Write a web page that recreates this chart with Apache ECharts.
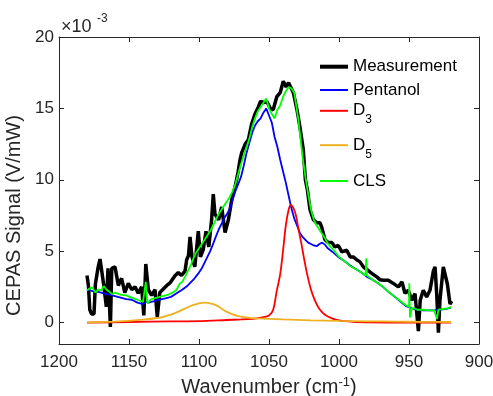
<!DOCTYPE html>
<html><head><meta charset="utf-8">
<script src="https://cdn.jsdelivr.net/npm/echarts@6/dist/echarts.min.js"></script>
<style>html,body{margin:0;padding:0;background:#fff}#c{width:493px;height:396px}</style>
</head><body><div id="c"></div>
<script>
// All signal values are in units of 1e-3 V/mW (axis shows ×10^-3)
const xTicks = [900, 950, 1000, 1050, 1100, 1150, 1200];
const yTicks = [0, 5, 10, 15, 20];

const measWn = [1180,1179,1178,1176.7,1175,1174,1172,1170.7,1169.5,1168,1166.2,1165,1164,1163.3,1162.3,1160,1157.6,1155.3,1153,1150.5,1148,1145.7,1143.4,1141,1139.4,1138,1136.2,1133.8,1131.4,1129.8,1128,1126,1123,1120.5,1117,1114.8,1112.5,1110,1108.8,1107.5,1106.4,1105,1103,1100.5,1099,1097,1095,1093,1091,1089.8,1088.6,1086,1083.8,1081.4,1079,1076.6,1074,1072,1070.7,1069.5,1067,1064.8,1062.4,1060,1057.6,1056,1054,1051.7,1049,1047,1044.5,1042,1039.8,1038.6,1037.8,1036,1035,1032.6,1030,1027.9,1025.5,1024,1022.6,1020.7,1018.3,1016,1013.6,1012.4,1010,1007.6,1005,1002.9,1000.5,998,994.5,992,989.8,987.4,985,982.6,980,976.6,973,970.7,968.3,964.8,961,957.6,955,952.9,950.5,948,945.7,943.3,942,939.8,937.4,935,932.6,931.4,930.2,929,927.9,925.5,924.3,922.6,920.7,919.5];
const measurement = [3.3,2.6,0.9,0.6,0.6,2.7,3.9,4.45,4.4,2.6,1.1,3.8,3.7,-0.3,3.8,3.9,2.6,3.1,2.1,2.75,2.3,2.5,2.05,2.5,0.5,4.1,2.3,1.9,2.3,0.4,2.1,2.3,2.6,2.8,3.3,3.5,3.3,3.6,4.4,4.7,6.0,4.6,3.9,6.4,4.6,5.1,6.4,5.3,7.2,9.0,7.6,7.2,8.1,6.3,7.2,8.6,9.6,10.6,11.4,11.9,12.5,12.8,13.9,14.6,15.1,15.5,15.4,15.5,15.0,14.9,15.8,16.1,16.9,17.0,16.5,16.8,16.9,16.1,14.9,13.7,12.1,10.0,9.3,7.9,7.2,7.0,7.0,6.7,5.8,5.6,5.6,5.3,5.4,4.95,5.07,4.6,4.6,4.4,4.25,3.9,3.7,3.45,3.2,3.0,2.97,2.97,2.73,2.5,2.85,2.05,2.26,1.56,2.03,-0.6,1.56,2.26,1.8,2.26,3.6,3.9,2.0,-0.7,1.56,3.9,3.9,2.7,1.3,1.5];

const compWn = [1180,1176,1172,1168,1164,1160,1156,1152,1148,1144,1142,1140,1138,1136,1132,1128,1124,1120,1116,1112,1108,1104,1100,1098,1096,1094,1092,1090,1088,1086,1084,1082,1080,1078,1076,1074,1072,1070,1068,1066,1064,1062,1060,1058,1056,1054,1052,1050,1048,1046,1044,1042,1040,1038,1036,1034,1032,1030,1028,1026,1024,1022,1020,1018,1016,1014,1012,1010,1008,1006,1004,1000,996,992,988,984,980,976,972,968,964,960,956,952,948,944,940,936,932,928,924,920];
const pentanol = [2.3,2.2,2.15,2.05,1.95,1.85,1.75,1.65,1.6,1.4,1.35,1.3,1.45,1.4,1.5,1.6,1.7,1.8,2.05,2.3,2.6,3.0,3.5,3.8,4.2,4.6,5.0,5.5,6.0,6.5,6.9,7.3,7.6,8.0,8.6,9.2,9.7,10.2,11.0,11.9,12.6,13.3,13.8,14.1,14.3,14.7,15.0,14.5,14.0,13.0,12.3,11.4,10.6,9.8,8.9,8.0,7.3,6.8,6.3,6.0,5.8,5.6,5.5,5.4,5.35,5.5,5.6,5.45,5.2,5.05,4.9,4.55,4.3,4.0,3.75,3.5,3.2,3.0,2.75,2.45,2.1,1.8,1.45,1.15,1.0,0.9,0.85,0.85,0.85,0.9,0.95,1.05];

const d3Wn = [1180,1150,1120,1100,1080,1070,1060,1055,1050,1047,1044.5,1042,1040,1038,1036,1034.5,1033,1031,1029,1027,1025,1023,1020,1017,1014,1010,1005,1000,990,980,950,920];
const d3 = [0.0,0.04,0.08,0.1,0.18,0.22,0.28,0.36,0.5,0.9,2.2,3.4,5.0,6.8,7.9,8.25,8.1,7.6,6.6,5.6,4.5,3.5,2.3,1.5,0.95,0.55,0.3,0.15,0.05,0.02,0.0,0.0];

const d5Wn = [1180,1170,1160,1150,1140,1130,1125,1120,1115,1110,1105,1100,1096,1092,1088,1084,1080,1076,1072,1068,1064,1060,1050,1040,1030,1020,1000,980,960,940,920];
const d5 = [0.02,0.04,0.07,0.12,0.2,0.32,0.42,0.55,0.75,0.98,1.2,1.35,1.4,1.35,1.22,0.98,0.75,0.58,0.46,0.38,0.33,0.3,0.26,0.22,0.19,0.16,0.12,0.09,0.07,0.05,0.04];

const clsWn = [1180,1178,1176,1174,1172,1170,1168,1166,1164,1162,1160,1156,1152,1148,1144,1140,1138,1137,1134,1130,1126,1122,1118,1116,1114,1112,1110,1108,1106,1104,1102,1100,1098,1096,1094,1092,1090,1088,1086,1084,1082,1080,1078,1076,1074,1072,1070,1068,1066,1064,1062,1060,1058,1056,1054,1052,1050,1048,1046,1044,1042,1040,1038,1036,1034,1032,1031,1029,1028,1026,1024,1022,1020,1018,1016,1014,1012,1010,1008,1006,1004,1000,996,992,988,984,981,980.5,980,976,972,968,964,960,956,952,950,949.8,949.3,948,946,944,940,936,932,930,929,926,922,920];
const cls = [2.25,2.4,2.45,2.1,2.3,2.25,2.55,2.3,2.15,2.0,2.1,1.95,1.9,1.75,1.6,1.45,2.85,1.35,1.65,1.75,1.85,1.95,2.15,2.3,2.7,2.85,3.2,3.6,4.0,4.5,4.9,5.2,5.5,5.8,6.1,6.4,6.8,7.2,7.6,7.9,8.2,8.5,8.8,9.2,9.7,10.4,11.1,11.7,12.3,12.9,13.7,14.3,14.8,15.1,15.4,15.7,15.0,14.6,14.3,14.9,15.2,15.8,16.2,16.5,16.4,16.1,15.5,14.2,13.3,11.6,10.2,9.0,7.9,7.2,6.8,6.5,6.2,5.9,5.55,5.3,5.1,4.6,4.3,3.95,3.75,3.5,3.3,4.5,3.3,3.0,2.75,2.45,2.1,1.8,1.5,1.2,1.1,2.75,0.35,1.0,1.0,0.9,0.9,0.85,0.85,0.25,0.9,0.95,1.0,1.1];

const seriesNames = ['Measurement', 'Pentanol', 'D3', 'D5', 'CLS'];

const FONT = '"Liberation Sans", Arial, Helvetica, sans-serif';
const TXT = '#262626';
const pair = (xs, ys) => xs.map((x, i) => [x, ys[i]]);

const chart = echarts.init(document.getElementById('c'));

const axisCommon = {
  axisLine: { show: true, onZero: false, lineStyle: { color: TXT, width: 1 } },
  axisTick: { show: true, inside: true, length: 5, lineStyle: { color: TXT, width: 1 } },
  splitLine: { show: false }
};

function legendFor(name, centerY, h, iconH, color, fmt) {
  return {
    data: [name], left: 320, top: centerY - h / 2, padding: 0,
    orient: 'vertical', itemWidth: 28, itemHeight: iconH, icon: 'rect', selectedMode: false,
    itemStyle: { color: color, borderWidth: 0 },
    formatter: fmt,
    textStyle: {
      color: '#000', fontSize: 17, fontFamily: FONT,
      rich: {
        n: { fontSize: 17, fontFamily: FONT, color: '#000' },
        s: { fontSize: 12, fontFamily: FONT, color: '#000', padding: [18, 0, 0, 0] }
      }
    }
  };
}

const option = {
  animation: false,
  backgroundColor: '#fff',
  grid: { left: 59, right: 14, top: 37, bottom: 52, outerBoundsMode: 'none', containLabel: false },
  xAxis: [
    Object.assign({}, axisCommon, {
      type: 'value', min: 900, max: 1200, interval: 50, inverse: true, position: 'bottom',
      axisLabel: { color: TXT, fontSize: 17, fontFamily: FONT, margin: 10, customValues: xTicks, formatter: v => String(v) },
      name: '{a|Wavenumber (cm}{s|-1}{a|)}', nameLocation: 'middle', nameGap: 31,
      nameTextStyle: {
        rich: {
          a: { fontSize: 20, fontFamily: FONT, color: TXT },
          s: { fontSize: 13, fontFamily: FONT, color: TXT, padding: [0, 0, 10, 0] }
        }
      }
    }),
    Object.assign({}, axisCommon, {
      type: 'value', min: 900, max: 1200, interval: 50, inverse: true, position: 'top',
      axisLabel: { show: false }
    })
  ],
  yAxis: [
    Object.assign({}, axisCommon, {
      type: 'value', min: -1.5, max: 20, position: 'left',
      axisTick: { show: true, inside: true, length: 5, lineStyle: { color: TXT, width: 1 }, customValues: yTicks },
      axisLabel: { color: TXT, fontSize: 17, fontFamily: FONT, margin: 5, customValues: yTicks, formatter: v => String(v) },
      name: 'CEPAS Signal (V/mW)', nameLocation: 'middle', nameGap: 25,
      nameTextStyle: { fontSize: 20, fontFamily: FONT, color: TXT, padding: [0, 50, 0, 0] }
    }),
    Object.assign({}, axisCommon, {
      type: 'value', min: -1.5, max: 20, position: 'right',
      axisTick: { show: true, inside: true, length: 5, lineStyle: { color: TXT, width: 1 }, customValues: yTicks },
      axisLabel: { show: false }
    })
  ],
  legend: [
    legendFor('Measurement', 66.7, 17, 4, '#000'),
    legendFor('Pentanol', 90, 17, 2, '#0000ff'),
    legendFor('D3', 117.3, 30, 2, '#ff0000', () => '{n|D}{s|3}'),
    legendFor('D5', 151.7, 30, 2, '#edb120', () => '{n|D}{s|5}'),
    legendFor('CLS', 181, 17, 2, '#00ff00')
  ],
  graphic: [
    { type: 'text', left: 61, top: 18, style: { text: '×10', font: '18px ' + FONT, fill: TXT } },
    { type: 'text', left: 97, top: 13, style: { text: '-3', font: '12px ' + FONT, fill: TXT } }
  ],
  series: [
    { name: 'Measurement', type: 'line', symbol: 'none', data: pair(measWn, measurement),
      lineStyle: { color: '#000', width: 3.5 }, itemStyle: { color: '#000' }, z: 1 },
    { name: 'Pentanol', type: 'line', symbol: 'none', data: pair(compWn, pentanol),
      lineStyle: { color: '#0000ff', width: 1.8 }, itemStyle: { color: '#0000ff' }, z: 2 },
    { name: 'D3', type: 'line', symbol: 'none', data: pair(d3Wn, d3), smooth: 0.3,
      lineStyle: { color: '#ff0000', width: 1.8 }, itemStyle: { color: '#ff0000' }, z: 3 },
    { name: 'D5', type: 'line', symbol: 'none', data: pair(d5Wn, d5), smooth: 0.3,
      lineStyle: { color: '#edb120', width: 1.8 }, itemStyle: { color: '#edb120' }, z: 4 },
    { name: 'CLS', type: 'line', symbol: 'none', data: pair(clsWn, cls),
      lineStyle: { color: '#00ff00', width: 1.8 }, itemStyle: { color: '#00ff00' }, z: 5 }
  ]
};
chart.setOption(option);
</script>
</body></html>
